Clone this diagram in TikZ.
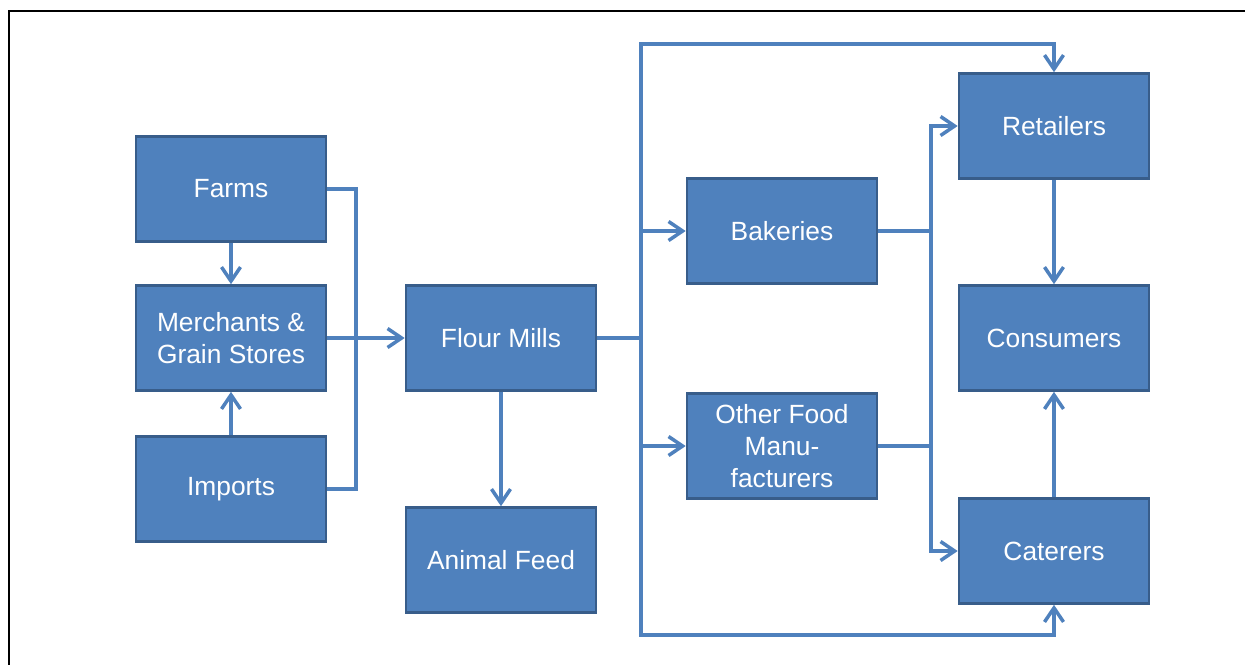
\documentclass[tikz,border=0pt]{standalone}
\usepackage{fontspec}
\setmainfont{Liberation Sans}
\usetikzlibrary{arrows.meta}
\definecolor{boxfill}{HTML}{4F81BD}
\definecolor{boxline}{HTML}{385D8A}
\tikzset{
  stage/.style={draw=boxline, fill=boxfill, text=white, line width=1.5pt,
    minimum width=3.8cm, minimum height=2.1cm, align=center,
    font=\fontsize{15}{18}\selectfont},
  link/.style={draw=boxfill, line width=2pt},
  flow/.style={link, -{Straight Barb[length=0.28cm,width=0.38cm]}}
}
\begin{document}
\begin{tikzpicture}[x=0.02cm, y=-0.02cm]
    \useasboundingbox (0,0) rectangle (1245,664);
    \draw[line width=1.1pt] (9,11) rectangle (1270,690);

    % sources
    \node[stage] (farms) at (231,189) {Farms};
    \node[stage] (merch) at (231,338) {Merchants \&\\Grain Stores};
    \node[stage] (imports) at (231,489) {Imports};

    % milling
    \node[stage] (mills) at (501,338) {Flour Mills};
    \node[stage] (feed) at (501,560) {Animal Feed};

    % processing
    \node[stage] (bake) at (782,231) {Bakeries};
    \node[stage] (other) at (782,446) {Other Food\\Manu-\\facturers};

    % outlets
    \node[stage] (retail) at (1054,126) {Retailers};
    \node[stage] (consum) at (1054,338) {Consumers};
    \node[stage] (cater) at (1054,551) {Caterers};

    \coordinate (jl) at (356,338);
    \coordinate (jm) at (641,338);
    \coordinate (topc) at (641,44);
    \coordinate (botc) at (641,635);
    \coordinate (jr) at (931,338);

    \draw[flow] (farms) -- (merch);
    \draw[flow] (imports) -- (merch);
    \draw[link] (farms.east) -| (jl) |- (imports.east);
    \draw[flow] (merch) -- (mills);
    \draw[flow] (mills) -- (feed);

    \draw[link] (mills.east) -- (jm);
    \draw[flow] (jm) -- (topc) -| (retail.north);
    \draw[flow] (jm) -- (botc) -| (cater.south);
    \draw[flow] (jm |- bake) -- (bake.west);
    \draw[flow] (jm |- other) -- (other.west);

    \draw[link] (bake.east) -| (jr);
    \draw[link] (other.east) -| (jr);
    \draw[flow] (jr) |- (retail.west);
    \draw[flow] (jr) |- (cater.west);

    \draw[flow] (retail) -- (consum);
    \draw[flow] (cater) -- (consum);
\end{tikzpicture}
\end{document}
